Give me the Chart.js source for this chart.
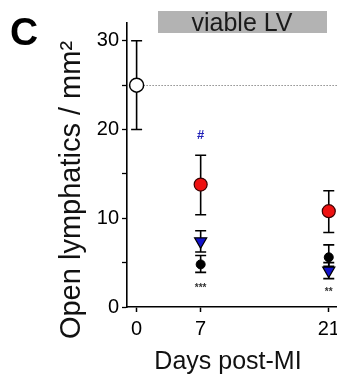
<!DOCTYPE html>
<html>
<head>
<meta charset="utf-8">
<script src="https://cdn.jsdelivr.net/npm/chart.js@4.4.1/dist/chart.umd.min.js"></script>
<style>
html,body{margin:0;padding:0;background:#fff;}
#wrap{position:relative;width:337px;height:380px;}
</style>
</head>
<body>
<div id="wrap"><canvas id="c" width="337" height="380"></canvas></div>
<script>
// ---- data ----
const xTicks = [0, 7, 21];
const yTicks = [0, 5, 10, 15, 20, 25, 30];
const yLabelTicks = [0, 10, 20, 30];

const baseDay = [0];
const baseMean = [25];
const baseLow = [20];
const baseHigh = [30];

const days = [7, 21];
const redMean = [13.8, 10.8];
const redLow = [10.4, 8.4];
const redHigh = [17.1, 13.1];

const blueMean = [7.4, 4.1];
const blueLow = [6.2, 3.2];
const blueHigh = [8.6, 5.0];

const blackMean = [4.8, 5.6];
const blackLow = [3.9, 4.6];
const blackHigh = [5.8, 7.0];

const annoText = ['#', '***', '**'];
const annoDay = [7, 7, 21];
const annoY = [19.3, 2.1, 1.7];
const annoColor = ['#2323b8', '#333333', '#333333'];

const panelLetter = 'C';
const boxTitle = 'viable LV';
const xTitle = 'Days post-MI';
const yTitle = 'Open lymphatics / mm\u00B2';

const FONT = '"Liberation Sans", Arial, sans-serif';

function pts(xs, ys) { return xs.map((x, i) => ({ x: x, y: ys[i] })); }

const errorSets = [
  { x: baseDay, lo: baseLow, hi: baseHigh },
  { x: days, lo: redLow, hi: redHigh },
  { x: days, lo: blueLow, hi: blueHigh },
  { x: days, lo: blackLow, hi: blackHigh }
];

const decor = {
  id: 'decor',
  beforeDatasetsDraw(chart) {
    const ctx = chart.ctx, xs = chart.scales.x, ys = chart.scales.y;
    ctx.save();
    // dotted reference line
    ctx.strokeStyle = '#555';
    ctx.lineWidth = 1;
    ctx.setLineDash([1, 2]);
    const yy = Math.round(ys.getPixelForValue(baseMean[0])) + 0.5;
    ctx.beginPath();
    ctx.moveTo(xs.getPixelForValue(baseDay[0]) + 7, yy);
    ctx.lineTo(chart.width, yy);
    ctx.stroke();
    ctx.setLineDash([]);
    // error bars
    ctx.strokeStyle = '#000';
    ctx.lineWidth = 1.6;
    errorSets.forEach(s => {
      s.x.forEach((d, i) => {
        const px = xs.getPixelForValue(d);
        const pl = ys.getPixelForValue(s.lo[i]);
        const ph = ys.getPixelForValue(s.hi[i]);
        ctx.beginPath();
        ctx.moveTo(px, pl); ctx.lineTo(px, ph);
        ctx.moveTo(px - 5.5, pl); ctx.lineTo(px + 5.5, pl);
        ctx.moveTo(px - 5.5, ph); ctx.lineTo(px + 5.5, ph);
        ctx.stroke();
      });
    });
    ctx.restore();
  },
  afterDraw(chart) {
    const ctx = chart.ctx, xs = chart.scales.x, ys = chart.scales.y;
    ctx.save();
    // annotations
    ctx.textAlign = 'center';
    ctx.textBaseline = 'middle';
    annoText.forEach((t, i) => {
      ctx.fillStyle = annoColor[i];
      ctx.font = (t === '#' ? 'bold 13px ' : 'bold 10px ') + FONT;
      ctx.fillText(t, xs.getPixelForValue(annoDay[i]), ys.getPixelForValue(annoY[i]));
    });
    // panel letter
    ctx.fillStyle = '#000';
    ctx.textAlign = 'left';
    ctx.textBaseline = 'alphabetic';
    ctx.font = 'bold 39px ' + FONT;
    ctx.fillText(panelLetter, 10, 45);
    // title box
    ctx.fillStyle = '#b3b3b3';
    ctx.fillRect(158, 11, 169, 22);
    ctx.fillStyle = '#1a1a1a';
    ctx.textAlign = 'center';
    ctx.font = '25px ' + FONT;
    ctx.fillText(boxTitle, 242, 31);
    // x title
    ctx.fillStyle = '#111';
    ctx.font = '25px ' + FONT;
    ctx.fillText(xTitle, 228, 369);
    // y title
    ctx.translate(80, 190);
    ctx.rotate(-Math.PI / 2);
    ctx.font = '29px ' + FONT;
    ctx.fillText(yTitle, 0, 0);
    ctx.restore();
  }
};

new Chart(document.getElementById('c'), {
  type: 'scatter',
  data: {
    datasets: [
      { data: pts(baseDay, baseMean), backgroundColor: '#fff', borderColor: '#000', borderWidth: 1.5, pointRadius: 7, pointHoverRadius: 7 },
      { data: pts(days, redMean), backgroundColor: '#ee1111', borderColor: '#3a0000', borderWidth: 1.2, pointRadius: 6.5, pointHoverRadius: 6.5 },
      { data: pts(days, blueMean), backgroundColor: '#1212cc', borderColor: '#000', borderWidth: 1.2, pointStyle: 'triangle', rotation: 180, pointRadius: 7, pointHoverRadius: 7 },
      { data: pts(days, blackMean), backgroundColor: '#000', borderColor: '#000', borderWidth: 1, pointRadius: 4.5, pointHoverRadius: 4.5 }
    ]
  },
  options: {
    responsive: false,
    animation: false,
    events: [],
    layout: { autoPadding: false, padding: { left: 0, right: 0, top: 23, bottom: 0 } },
    plugins: { legend: { display: false }, tooltip: { enabled: false } },
    scales: {
      x: {
        type: 'linear', min: -1.05, max: 21.9,
        afterBuildTicks(s) { s.ticks = xTicks.map(v => ({ value: v })); },
        afterFit(s) { s.height = 73; s.paddingLeft = 0; s.paddingRight = 0; },
        grid: { display: true, drawOnChartArea: false, drawTicks: true, tickLength: 5, color: '#000', tickWidth: 1.5 },
        border: { display: true, color: '#000', width: 1.6 },
        ticks: { color: '#000', font: { family: FONT, size: 20 }, padding: 5, maxRotation: 0, autoSkip: false }
      },
      y: {
        type: 'linear', min: 0, max: 32,
        afterBuildTicks(s) { s.ticks = yTicks.map(v => ({ value: v })); },
        afterFit(s) { s.width = 127; s.paddingTop = 0; s.paddingBottom = 0; },
        grid: { display: true, drawOnChartArea: false, drawTicks: true, tickLength: 5, color: '#000', tickWidth: 1.3 },
        border: { display: true, color: '#000', width: 1.6 },
        ticks: {
          color: '#000', font: { family: FONT, size: 20 }, padding: 3, autoSkip: false,
          callback: v => yLabelTicks.includes(v) ? String(v) : ''
        }
      }
    }
  },
  plugins: [decor]
});
</script>
</body>
</html>
